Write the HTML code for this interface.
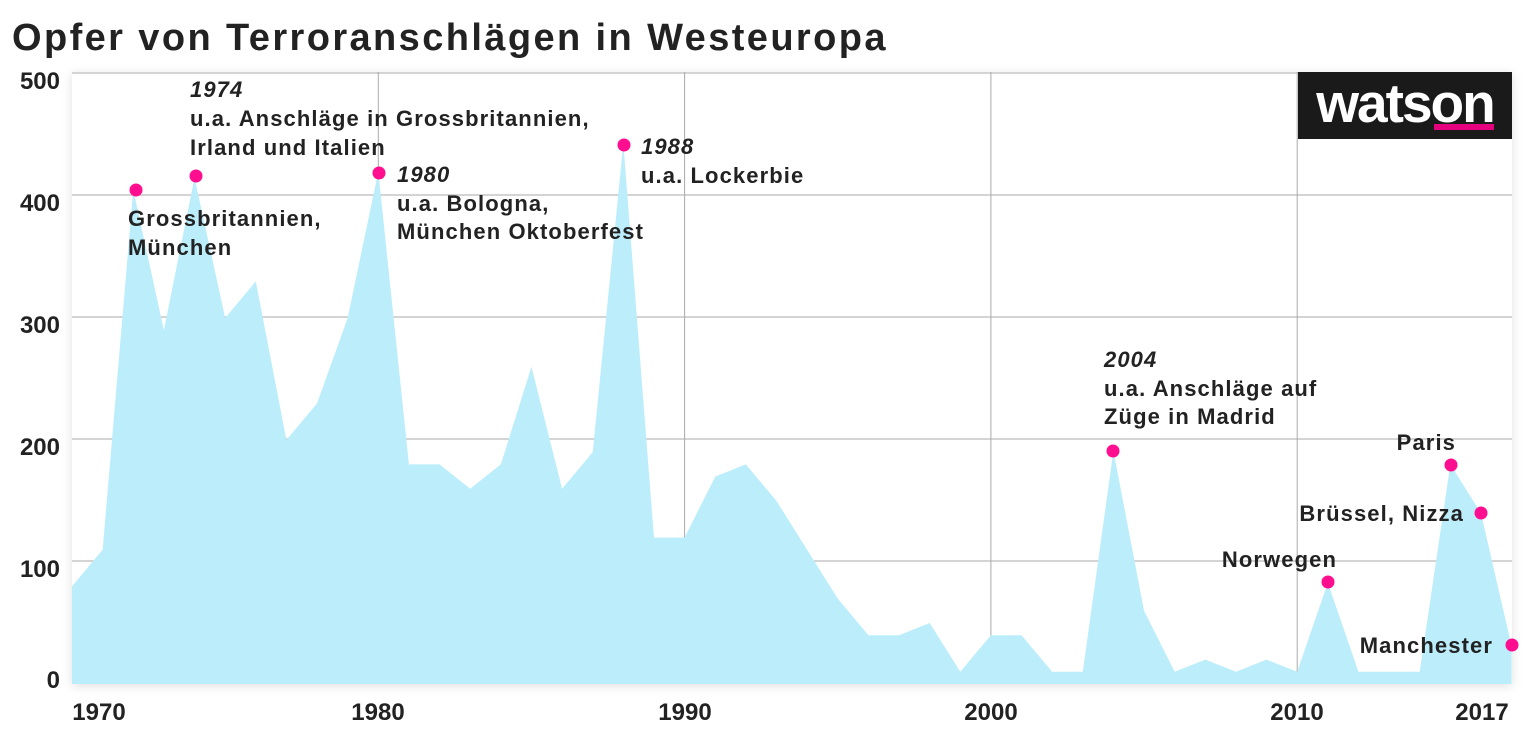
<!DOCTYPE html>
<html><head><meta charset="utf-8"><style>
html,body{margin:0;padding:0;background:#fff;}
svg{display:block;font-family:"Liberation Sans",sans-serif;}
</style></head><body>
<svg width="1536" height="733" viewBox="0 0 1536 733">
<defs><filter id="sh" x="-5%" y="-5%" width="110%" height="110%"><feDropShadow dx="0" dy="2" stdDeviation="5" flood-color="#000" flood-opacity="0.12"/></filter></defs>
<text x="12" y="50" font-size="38" font-weight="bold" fill="#222" letter-spacing="2.4">Opfer von Terroranschlägen in Westeuropa</text>
<rect x="72" y="72" width="1440" height="612" fill="#fff" filter="url(#sh)"/>
<g stroke="#aaa" stroke-width="1">
<line x1="72" y1="73" x2="1512" y2="73"/>
<line x1="72" y1="195" x2="1512" y2="195"/>
<line x1="72" y1="317" x2="1512" y2="317"/>
<line x1="72" y1="439" x2="1512" y2="439"/>
<line x1="72" y1="561" x2="1512" y2="561"/>
<line x1="378.3" y1="72" x2="378.3" y2="684"/>
<line x1="684.6" y1="72" x2="684.6" y2="684"/>
<line x1="990.9" y1="72" x2="990.9" y2="684"/>
<line x1="1297.2" y1="72" x2="1297.2" y2="684"/>
</g>
<polygon transform="translate(72,684) scale(30.63,-1.22)" fill="#bbedfb" points="0,0 0,80 1,110 2,405 3,290 4,415 5,300 6,330 7,200 8,230 9,300 10,420 11,180 12,180 13,160 14,180 15,260 16,160 17,190 18,443 19,120 20,120 21,170 22,180 23,150 24,110 25,70 26,40 27,40 28,50 29,10 30,40 31,40 32,10 33,10 34,191 35,60 36,10 37,20 38,10 39,20 40,10 41,83 42,10 43,10 44,10 45,180 46,140 47,31 47,0"/>
<rect x="1298" y="72" width="214" height="67" fill="#1a1a1a"/>
<text x="1405" y="122" font-size="55" font-weight="bold" fill="#fff" text-anchor="middle" letter-spacing="-2">watson</text>
<rect x="1434" y="124" width="60" height="6" fill="#e5007d"/>
<g fill="#ff0f8f">
<circle cx="136" cy="190" r="6.5"/><circle cx="196" cy="176" r="6.5"/><circle cx="379" cy="173" r="6.5"/><circle cx="624" cy="145" r="6.5"/><circle cx="1113" cy="451" r="6.5"/><circle cx="1328" cy="582" r="6.5"/><circle cx="1451" cy="465" r="6.5"/><circle cx="1481" cy="513" r="6.5"/><circle cx="1512" cy="645" r="6.5"/>
</g>
<g font-size="22" font-weight="bold" fill="#222" letter-spacing="1.1">
<text x="190" y="97" font-style="italic">1974</text>
<text x="190" y="126">u.a. Anschläge in Grossbritannien,</text>
<text x="190" y="155">Irland und Italien</text>
<text x="128" y="226">Grossbritannien,</text>
<text x="128" y="255">München</text>
<text x="397" y="182" font-style="italic">1980</text>
<text x="397" y="211">u.a. Bologna,</text>
<text x="397" y="239">München Oktoberfest</text>
<text x="641" y="154" font-style="italic">1988</text>
<text x="641" y="183">u.a. Lockerbie</text>
<text x="1104" y="367" font-style="italic">2004</text>
<text x="1104" y="396">u.a. Anschläge auf</text>
<text x="1104" y="424">Züge in Madrid</text>
<text x="1456" y="450" text-anchor="end">Paris</text>
<text x="1464" y="521" text-anchor="end">Brüssel, Nizza</text>
<text x="1337" y="567" text-anchor="end">Norwegen</text>
<text x="1493" y="653" text-anchor="end">Manchester</text>
</g>
<g font-size="24" font-weight="bold" fill="#222" text-anchor="end">
<text x="60" y="89">500</text><text x="60" y="211">400</text><text x="60" y="333">300</text><text x="60" y="455">200</text><text x="60" y="577">100</text><text x="60" y="688">0</text>
</g>
<g font-size="24" font-weight="bold" fill="#222" text-anchor="middle">
<text x="99" y="720">1970</text><text x="378" y="720">1980</text><text x="685" y="720">1990</text><text x="991" y="720">2000</text><text x="1297" y="720">2010</text><text x="1482" y="720">2017</text>
</g>
</svg>
</body></html>
